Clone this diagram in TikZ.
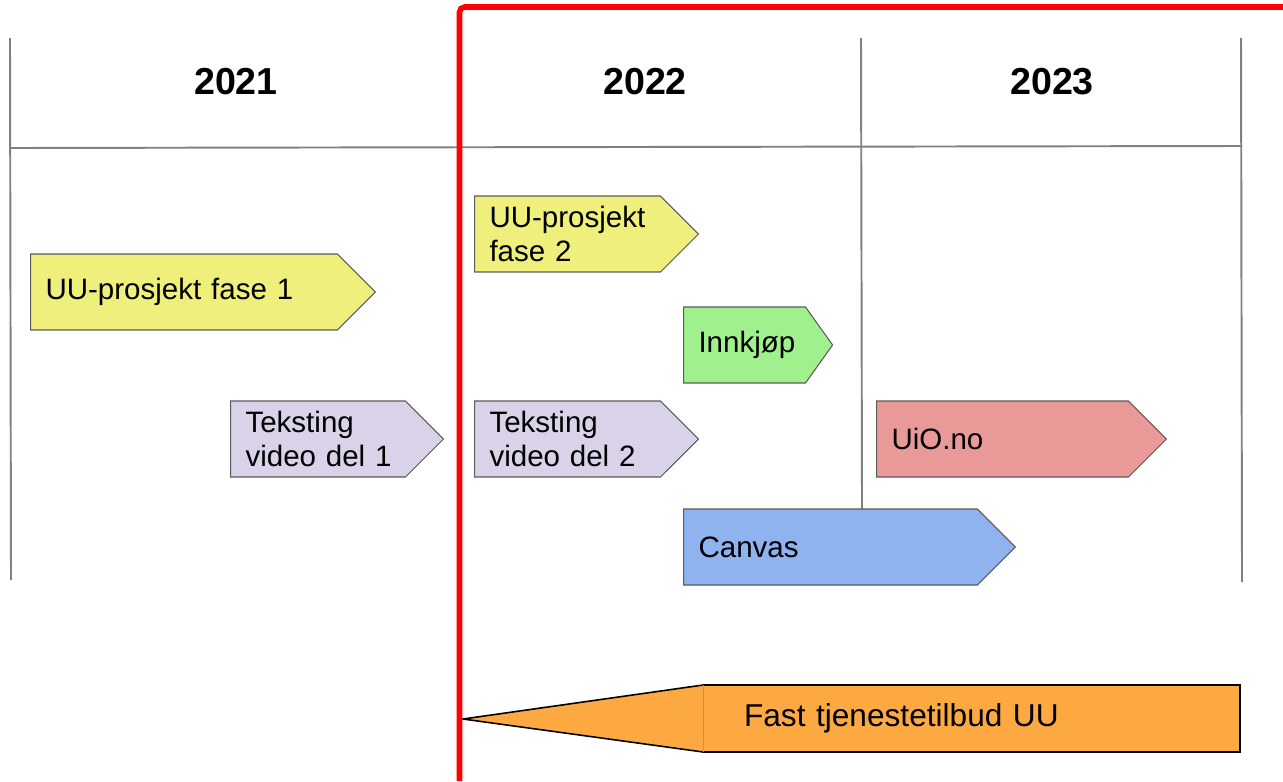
\documentclass[tikz,border=0pt]{standalone}
\usepackage{fontspec}
\setmainfont{Liberation Sans}
\usepackage{xcolor}
\usepackage{tikz}
\usetikzlibrary{shapes.symbols,backgrounds}

\definecolor{uuyellow}{HTML}{EEF07B}
\definecolor{uupurple}{HTML}{D9D2E9}
\definecolor{uugreen}{HTML}{A0F08D}
\definecolor{uured}{HTML}{EA9999}
\definecolor{uublue}{HTML}{8FB3EE}
\definecolor{uuorange}{HTML}{FCA942}
\definecolor{gridgray}{HTML}{808080}
\definecolor{boxline}{HTML}{5A5A5A}

\begin{document}
\begin{tikzpicture}[x=0.02cm, y=-0.02cm,
        grid/.style={draw=gridgray, line width=1.1pt},
        year/.style={font=\fontsize{21.4}{25}\selectfont\bfseries},
        task/.style={shape=signal, signal to=east, signal pointer angle=90, draw=boxline, line width=0.6pt, anchor=west, align=left, inner xsep=0.3cm, inner ysep=0pt, minimum height=1.52cm, font=\fontsize{16.8}{19.8}\selectfont},
        fastbox/.style={minimum height=1.34cm, text width=9.1cm, inner xsep=0.82cm, outer sep=0pt, align=left, font=\fontsize{18}{21}\selectfont},
        redline/.style={draw=red, line width=3.2pt, rounded corners=3pt}
    ]
    \useasboundingbox (0,0) rectangle (1283,781);

    % tidslinje
    \draw[grid] (10,38) -- (11,580);
    \draw[grid] (861,38) -- (862,509);
    \draw[grid] (1241,38) -- (1242,582);
    \draw[grid] (10,148) -- (1242,146);

    % år
    \node[year] (y2021) at (236,82) {2021};
    \node[year] (y2022) at (645,82) {2022};
    \node[year] (y2023) at (1052,82) {2023};

    % prosjekter
    \node[task, fill=uuyellow, text width=5.54cm] (fase1) at (30,292) {UU-prosjekt fase 1};
    \node[task, fill=uuyellow, text width=3.12cm] (fase2) at (474,234) {\mbox{UU-prosjekt}\\fase 2};
    \node[task, fill=uugreen, text width=1.84cm, signal pointer angle=109] (innkjop) at (683,345) {Innkjøp};
    \node[task, fill=uupurple, text width=2.9cm] (tekst1) at (230,439) {\mbox{Teksting}\\\mbox{video del 1}};
    \node[task, fill=uupurple, text width=3.12cm] (tekst2) at (474,439) {\mbox{Teksting}\\\mbox{video del 2}};
    \node[task, fill=uured, text width=4.44cm] (uio) at (876,439) {UiO.no};
    \node[task, fill=uublue, text width=5.28cm] (canvas) at (683,547) {Canvas};

    % fast tilbud
    \node[fastbox] (fast) at (971.5,718.5) {Fast tjenestetilbud UU};
    \coordinate (fasttip) at (463,719);
    \begin{scope}[on background layer]
        \draw[line width=0.9pt, fill=uuorange] (fasttip) -- (fast.north west) -- (fast.north east) -- (fast.south east) -- (fast.south west) -- cycle;
        \draw[uuorange!85!black, line width=0.3pt] (fast.north west) -- (fast.south west);
    \end{scope}

    % skillelinje
    \draw[redline] (459.5,781) -- (459.5,7) -- (1283,7);

\end{tikzpicture}
\end{document}
